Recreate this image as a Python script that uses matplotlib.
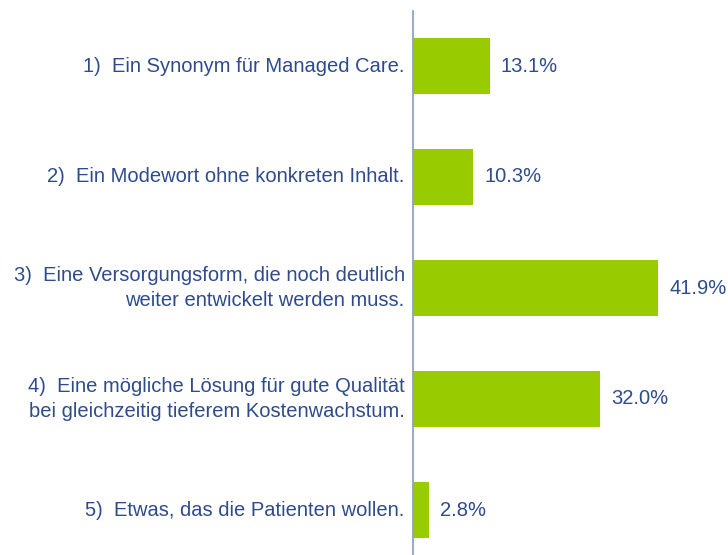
import matplotlib
matplotlib.use('Agg')
import matplotlib.pyplot as plt

plt.rcParams['font.family'] = ['Liberation Sans', 'DejaVu Sans']

# Daten
labels = ['1)  Ein Synonym für Managed Care.',
          '2)  Ein Modewort ohne konkreten Inhalt.',
          '3)  Eine Versorgungsform, die noch deutlich\nweiter entwickelt werden muss.',
          '4)  Eine mögliche Lösung für gute Qualität\nbei gleichzeitig tieferem Kostenwachstum.',
          '5)  Etwas, das die Patienten wollen.']
values = [13.1, 10.3, 41.9, 32.0, 2.8]

bar_color = '#99CC00'
text_color = '#2E4B8C'
axis_color = '#8FA3C6'

fig = plt.figure(figsize=(7.28, 5.55), dpi=100)
ax = fig.add_axes([413 / 728, -10.5 / 555, 315 / 728, 1.0])

pos = list(range(len(values)))
ax.barh(pos, values, height=0.5, color=bar_color, zorder=2)

ax.set_xlim(0, 315 / 5.85)
ax.set_ylim(len(values) - 0.5, -0.5)

for p, v, lab in zip(pos, values, labels):
    ax.text(v + 1.9, p, f'{v:.1f}%', va='center', ha='left',
            fontsize=14.5, color=text_color)
    ax.annotate(lab, xy=(0, p), xycoords='data', xytext=(-6, 0),
                textcoords='offset points', ha='right', va='center',
                multialignment='right', fontsize=14.5, color=text_color,
                linespacing=1.45, annotation_clip=False)

for s in ['top', 'right', 'bottom']:
    ax.spines[s].set_visible(False)
ax.spines['left'].set_color(axis_color)
ax.spines['left'].set_linewidth(1.3)
ax.set_xticks([])
ax.set_yticks([])

fig.savefig('out.png', dpi=100)
